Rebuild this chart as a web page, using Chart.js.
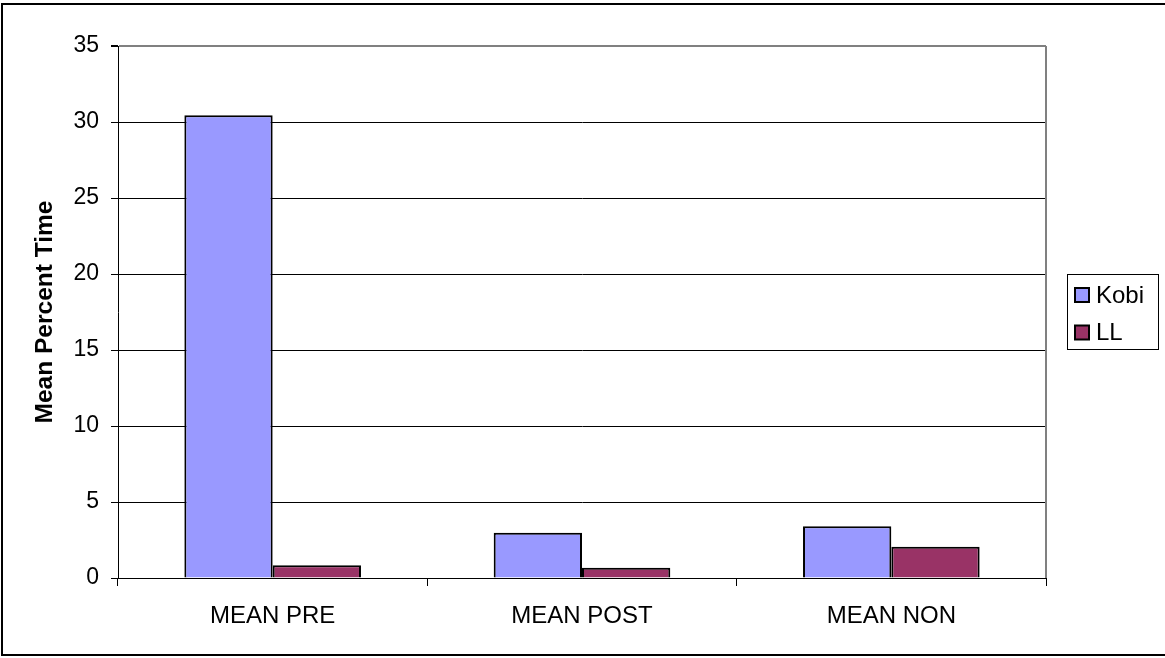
<!DOCTYPE html>
<html>
<head>
<meta charset="utf-8">
<script src="https://cdn.jsdelivr.net/npm/chart.js@4/dist/chart.umd.min.js"></script>
<style>
  html, body { margin: 0; padding: 0; background: #fff; }
  #wrap { width: 1165px; height: 658px; }
</style>
</head>
<body>
<div id="wrap"><canvas id="c" width="1165" height="658"></canvas></div>
<script>
// Chart data
const categories = ['MEAN PRE', 'MEAN POST', 'MEAN NON'];
const kobiValues = [30.45, 2.97, 3.4];
const llValues = [0.84, 0.68, 2.06];
const seriesNames = ['Kobi', 'LL'];
const yTicks = [0, 5, 10, 15, 20, 25, 30, 35];

const FONT = '"Liberation Sans", Arial, sans-serif';

// Outer frame, plot-area border and the boxed legend on the right
const frameAndLegend = {
  id: 'frameAndLegend',
  beforeDraw(chart) {
    const ctx = chart.ctx;
    ctx.save();
    ctx.fillStyle = '#fff';
    ctx.fillRect(0, 0, chart.width, chart.height);
    ctx.restore();
  },
  afterDraw(chart) {
    const ctx = chart.ctx;
    const a = chart.chartArea;
    ctx.save();
    // chart frame
    ctx.strokeStyle = '#000';
    ctx.lineWidth = 2;
    ctx.strokeRect(2, 4, chart.width + 4, chart.height - 7);
    // right edge of the plot area
    ctx.strokeStyle = '#808080';
    ctx.lineWidth = 2;
    ctx.beginPath();
    ctx.moveTo(a.right, a.top);
    ctx.lineTo(a.right, a.bottom);
    ctx.stroke();

    // legend
    const lx = 1067, ly = 274, lw = 91, lh = 75;
    ctx.strokeStyle = '#000';
    ctx.lineWidth = 1;
    ctx.strokeRect(lx + 0.5, ly + 0.5, lw, lh);
    ctx.font = '24px ' + FONT;
    ctx.textBaseline = 'middle';
    ctx.textAlign = 'left';
    chart.data.datasets.forEach((ds, i) => {
      const cy = 295 + i * 37.5;
      ctx.fillStyle = ds.backgroundColor;
      ctx.fillRect(1075, cy - 7, 14, 14);
      ctx.lineWidth = 2;
      ctx.strokeStyle = '#000';
      ctx.strokeRect(1075, cy - 7, 14, 14);
      ctx.fillStyle = '#000';
      ctx.fillText(ds.label, 1096, cy + 1);
    });
    ctx.restore();
  }
};

new Chart(document.getElementById('c'), {
  type: 'bar',
  data: {
    labels: categories,
    datasets: [
      { label: seriesNames[0], data: kobiValues, backgroundColor: '#9999FF', borderColor: '#000', borderWidth: 2 },
      { label: seriesNames[1], data: llValues, backgroundColor: '#993366', borderColor: '#000', borderWidth: 2 }
    ]
  },
  options: {
    responsive: false,
    animation: false,
    devicePixelRatio: 1,
    layout: { padding: { top: 46, right: 119, left: 0, bottom: 0 } },
    datasets: { bar: { categoryPercentage: 0.571, barPercentage: 1.0 } },
    plugins: {
      legend: { display: false },
      tooltip: { enabled: false }
    },
    scales: {
      x: {
        afterFit(scale) { scale.height = 80; },
        grid: {
          display: true,
          drawOnChartArea: false,
          drawTicks: true,
          tickLength: 8,
          tickColor: '#000',
          offset: true
        },
        border: { display: true, color: '#000', width: 1 },
        ticks: {
          color: '#000',
          font: { family: FONT, size: 24 },
          padding: 16,
          maxRotation: 0,
          autoSkip: false
        }
      },
      y: {
        min: 0,
        max: 35,
        afterFit(scale) { scale.width = 118; },
        afterBuildTicks(scale) { scale.ticks = yTicks.map(v => ({ value: v })); },
        grid: {
          color: ctx => (ctx.tick && ctx.tick.value === 35 ? '#808080' : '#000'),
          lineWidth: ctx => (ctx.tick && ctx.tick.value === 35 ? 2 : 1),
          drawTicks: true,
          tickLength: 7,
          tickColor: '#000'
        },
        border: { display: true, color: '#000', width: 1 },
        ticks: {
          color: '#000',
          font: { family: FONT, size: 23 },
          padding: 12
        },
        title: {
          display: true,
          text: 'Mean Percent Time',
          color: '#000',
          font: { family: FONT, size: 24.5, weight: 'bold' },
          padding: { top: 31, bottom: 0 }
        }
      }
    }
  },
  plugins: [frameAndLegend]
});
</script>
</body>
</html>
